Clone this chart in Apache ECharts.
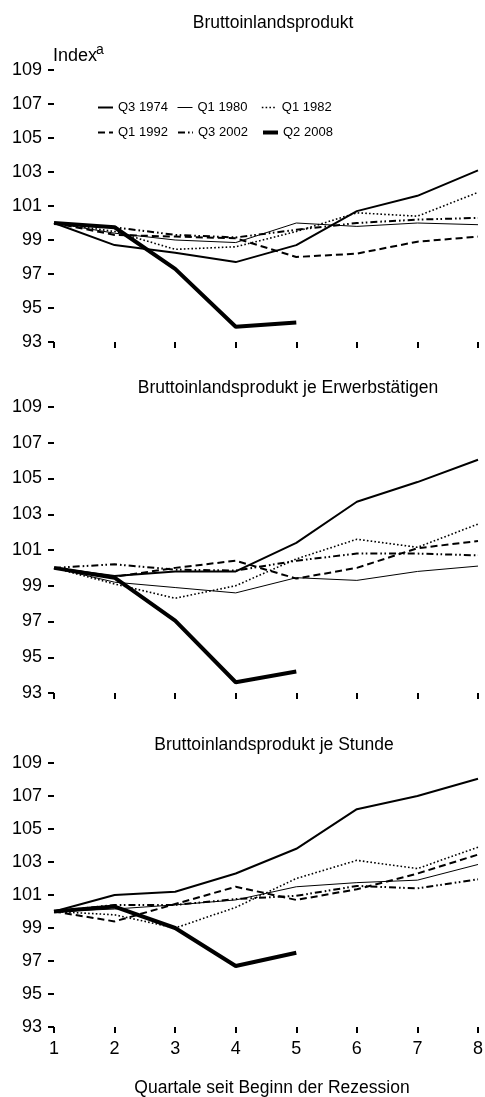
<!DOCTYPE html>
<html>
<head>
<meta charset="utf-8">
<title>Bruttoinlandsprodukt in Rezessionen</title>
<script src="https://cdn.jsdelivr.net/npm/echarts@6/dist/echarts.min.js"></script>
<style>
    html,
    body {
        margin: 0;
        padding: 0;
        background: #fff;
    }

    #chart {
        width: 485px;
        height: 1097px;
    }
</style>
</head>
<body>
<div id="chart"></div>
<script>
// Quartale seit Beginn der Rezession
const quartale = ['1', '2', '3', '4', '5', '6', '7', '8']
const yTicks = [93, 95, 97, 99, 101, 103, 105, 107, 109]
const rezessionen = ['Q3 1974', 'Q1 1980', 'Q1 1982', 'Q1 1992', 'Q3 2002', 'Q2 2008']

// Bruttoinlandsprodukt
const bip1974 = [100, 98.7, 98.25, 97.7, 98.7, 100.7, 101.6, 103.1]
const bip1980 = [100, 99.4, 99.0, 98.85, 100.0, 99.8, 100.0, 99.9]
const bip1982 = [100, 99.5, 98.45, 98.6, 99.5, 100.6, 100.4, 101.8]
const bip1992 = [100, 99.3, 99.2, 99.1, 98.0, 98.2, 98.9, 99.2]
const bip2002 = [100, 99.75, 99.3, 99.15, 99.6, 100.0, 100.2, 100.3]
const bip2008 = [100, 99.75, 97.3, 93.9, 94.15]

// Bruttoinlandsprodukt je Erwerbstätigen
const erw1974 = [100, 99.55, 99.8, 99.8, 101.4, 103.7, 104.8, 106.05]
const erw1980 = [100, 99.2, 98.9, 98.6, 99.45, 99.3, 99.8, 100.1]
const erw1982 = [100, 99.1, 98.3, 99.0, 100.5, 101.6, 101.15, 102.45]
const erw1992 = [100, 99.5, 100.0, 100.4, 99.4, 100.0, 101.1, 101.5]
const erw2002 = [100, 100.2, 99.9, 99.85, 100.4, 100.8, 100.8, 100.7]
const erw2008 = [100, 99.45, 97.05, 93.6, 94.2]

// Bruttoinlandsprodukt je Stunde
const std1974 = [100, 101.0, 101.2, 102.3, 103.8, 106.2, 107.0, 108.05]
const std1980 = [100, 100.15, 100.4, 100.7, 101.5, 101.75, 101.9, 102.85]
const std1982 = [100, 99.8, 99.0, 100.25, 102.0, 103.1, 102.6, 103.9]
const std1992 = [100, 99.4, 100.45, 101.5, 100.7, 101.35, 102.3, 103.45]
const std2002 = [100, 100.4, 100.4, 100.75, 100.95, 101.55, 101.4, 101.95]
const std2008 = [100, 100.3, 99.0, 96.7, 97.5]

// Linienstile je Rezession
const stile = [
    { width: 2, type: 'solid' },
    { width: 1, type: 'solid' },
    { width: 1.6, type: [1.6, 2.2] },
    { width: 2, type: [7, 4] },
    { width: 2, type: [7, 3, 1.6, 2.5, 1.6, 3] },
    { width: 4, type: 'solid' },
]

// Panels
const panels = [
    { titel: 'Bruttoinlandsprodukt', titelX: 273, titelY: 23, top: 70, height: 272, werte: [bip1974, bip1980, bip1982, bip1992, bip2002, bip2008] },
    { titel: 'Bruttoinlandsprodukt je Erwerbstätigen', titelX: 288, titelY: 388, top: 407, height: 286, werte: [erw1974, erw1980, erw1982, erw1992, erw2002, erw2008] },
    { titel: 'Bruttoinlandsprodukt je Stunde', titelX: 274, titelY: 745, top: 763, height: 264, werte: [std1974, std1980, std1982, std1992, std2002, std2008] },
]

// Legendenpositionen
const legendPos = [
    [97, 101], [177, 101], [261, 101],
    [97, 126], [177, 126], [261, 126],
]

const schrift = "'Liberation Sans', Arial, sans-serif"

const chart = echarts.init(document.getElementById('chart'))

const grids = []
const xAxes = []
const yAxes = []
const series = []
const graphics = []

panels.forEach((p, i) => {
    grids.push({ left: 54, width: 424, top: p.top, height: p.height, outerBoundsMode: 'none' })

    xAxes.push({
        type: 'category',
        gridIndex: i,
        data: quartale,
        boundaryGap: false,
        axisLine: { show: false },
        axisTick: { show: true, length: 6, lineStyle: { color: '#000', width: 2 } },
        axisLabel: { show: i === 2, color: '#000', fontSize: 18, margin: 13, fontFamily: schrift },
        splitLine: { show: false },
    })

    yAxes.push({
        type: 'value',
        gridIndex: i,
        min: 93,
        max: 109,
        axisLine: { show: false },
        axisTick: { show: true, length: 6, customValues: yTicks, lineStyle: { color: '#000', width: 2 } },
        axisLabel: { color: '#000', fontSize: 18, margin: 12, customValues: yTicks, fontFamily: schrift },
        splitLine: { show: false },
    })

    rezessionen.forEach((name, j) => {
        series.push({
            name: name,
            type: 'line',
            xAxisIndex: i,
            yAxisIndex: i,
            data: p.werte[j],
            symbol: 'none',
            silent: true,
            z: j === 5 ? 4 : 2,
            itemStyle: { color: '#000' },
            lineStyle: { color: '#000', width: stile[j].width, type: stile[j].type },
        })
    })

    graphics.push({
        type: 'text',
        x: p.titelX,
        y: p.titelY,
        style: {
            text: p.titel,
            font: '17.5px ' + schrift,
            fill: '#000',
            align: 'center',
            textAlign: 'center',
            verticalAlign: 'middle',
            textVerticalAlign: 'middle',
        },
    })
})

// Achsenbeschriftungen
graphics.push({
    type: 'text',
    x: 53,
    y: 56,
    style: { text: 'Index', font: '18px ' + schrift, fill: '#000', verticalAlign: 'middle', textVerticalAlign: 'middle' },
})
graphics.push({
    type: 'text',
    x: 96,
    y: 50,
    style: { text: 'a', font: '14px ' + schrift, fill: '#000', verticalAlign: 'middle', textVerticalAlign: 'middle' },
})
graphics.push({
    type: 'text',
    x: 272,
    y: 1088,
    style: {
        text: 'Quartale seit Beginn der Rezession',
        font: '17.5px ' + schrift,
        fill: '#000',
        align: 'center',
        textAlign: 'center',
        verticalAlign: 'middle',
        textVerticalAlign: 'middle',
    },
})

// eine Legende je Eintrag, damit die Spalten wie im Original sitzen
const legends = rezessionen.map((name, j) => ({
    data: [name],
    left: legendPos[j][0],
    top: legendPos[j][1],
    itemWidth: 15,
    itemHeight: 10,
    selectedMode: false,
    padding: 0,
    itemStyle: { opacity: 0 },
    lineStyle: { color: '#000', width: stile[j].width, type: stile[j].type },
    textStyle: { color: '#000', fontSize: 13, fontFamily: schrift },
}))

chart.setOption({
    animation: false,
    textStyle: { fontFamily: schrift },
    grid: grids,
    xAxis: xAxes,
    yAxis: yAxes,
    legend: legends,
    graphic: graphics,
    series: series,
})

window.addEventListener('resize', () => chart.resize())
</script>
</body>
</html>
